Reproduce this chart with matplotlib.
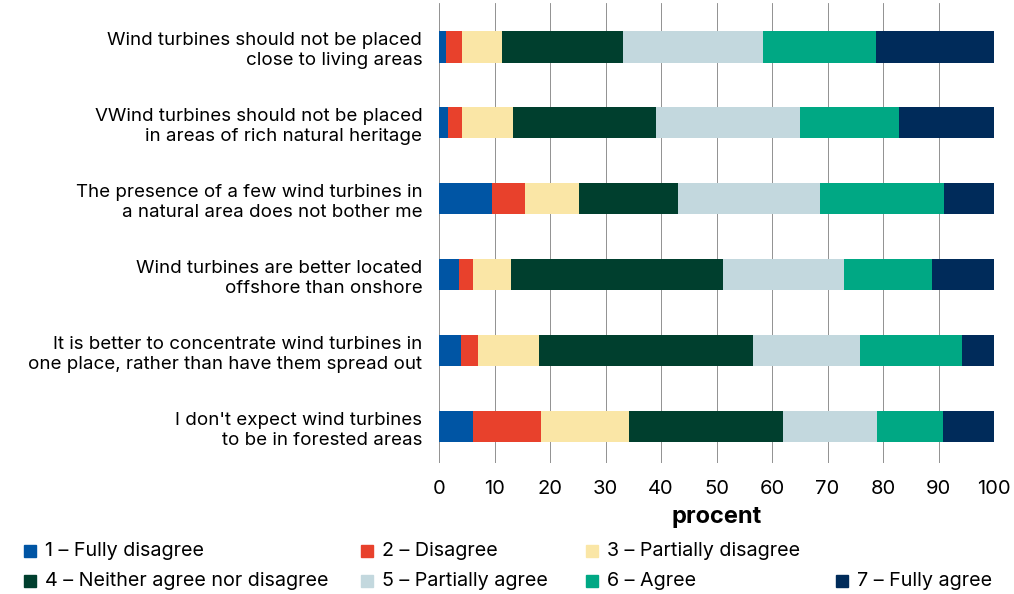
import numpy as np
import matplotlib.pyplot as plt
from matplotlib.patches import Rectangle

plt.rcParams['font.family'] = ['Inter', 'DejaVu Sans']

# statements (top to bottom)
statements = [
    'Wind turbines should not be placed\nclose to living areas',
    'VWind turbines should not be placed\nin areas of rich natural heritage',
    'The presence of a few wind turbines in\na natural area does not bother me',
    'Wind turbines are better located\noffshore than onshore',
    'It is better to concentrate wind turbines in\none place, rather than have them spread out',
    "I don't expect wind turbines\nto be in forested areas",
]

answers = ['1 – Fully disagree', '2 – Disagree', '3 – Partially disagree',
           '4 – Neither agree nor disagree', '5 – Partially agree',
           '6 – Agree', '7 – Fully agree']

# share of answers per statement, percent
fully_disagree = [1.3, 1.7, 9.5, 3.6, 4.0, 6.1]
disagree = [2.9, 2.5, 6.0, 2.5, 3.1, 12.3]
partially_disagree = [7.2, 9.1, 9.7, 6.9, 11.0, 15.9]
neither = [21.8, 25.8, 17.8, 38.2, 38.4, 27.7]
partially_agree = [25.1, 25.9, 25.6, 21.7, 19.4, 16.9]
agree = [20.5, 17.9, 22.4, 16.0, 18.3, 11.9]
fully_agree = [21.2, 17.1, 9.0, 11.1, 5.8, 9.2]

colors = ['#0055a4', '#e8412c', '#fae6a6', '#003f2e', '#c3d8de', '#00a884', '#002b5a']

series = [fully_disagree, disagree, partially_disagree, neither,
          partially_agree, agree, fully_agree]

fig = plt.figure(figsize=(10.14, 5.94), dpi=100)
ax = fig.add_axes([439/1014, 1-463/594, 555/1014, 460/594])

y = np.arange(len(statements))
left = np.zeros(len(statements))
for vals, c, lab in zip(series, colors, answers):
    ax.barh(y, vals, left=left, height=0.41, color=c, label=lab, zorder=2)
    left += np.array(vals)

ax.set_xlim(0, 100)
ax.set_ylim(5.48, -0.58)
ax.set_xticks(np.arange(0, 101, 10))
ax.set_yticks(y)
ax.set_yticklabels(statements, fontsize=13.5, ha='right', linespacing=1.25)
ax.tick_params(axis='y', length=0, pad=12)
ax.tick_params(axis='x', length=0, pad=12, labelsize=14.5)
ax.grid(axis='x', color='#808080', linewidth=0.6, zorder=0)
for sp in ax.spines.values():
    sp.set_visible(False)
ax.set_xlabel('procent', fontsize=17, fontweight='bold', labelpad=6)

# legend, laid out by hand in two rows
legend_pos = [(24, 551), (361, 551), (586, 551),
              (24, 581), (361, 581), (586, 581), (836, 581)]
for (px, py), c, lab in zip(legend_pos, colors, answers):
    fig.add_artist(Rectangle((px/1014, 1-(py+6)/594), 12/1014, 12/594,
                             color=c, transform=fig.transFigure))
    fig.text((px+21)/1014, 1-py/594, lab, fontsize=14.2, va='center', ha='left')

fig.savefig('out.png', dpi=100)
